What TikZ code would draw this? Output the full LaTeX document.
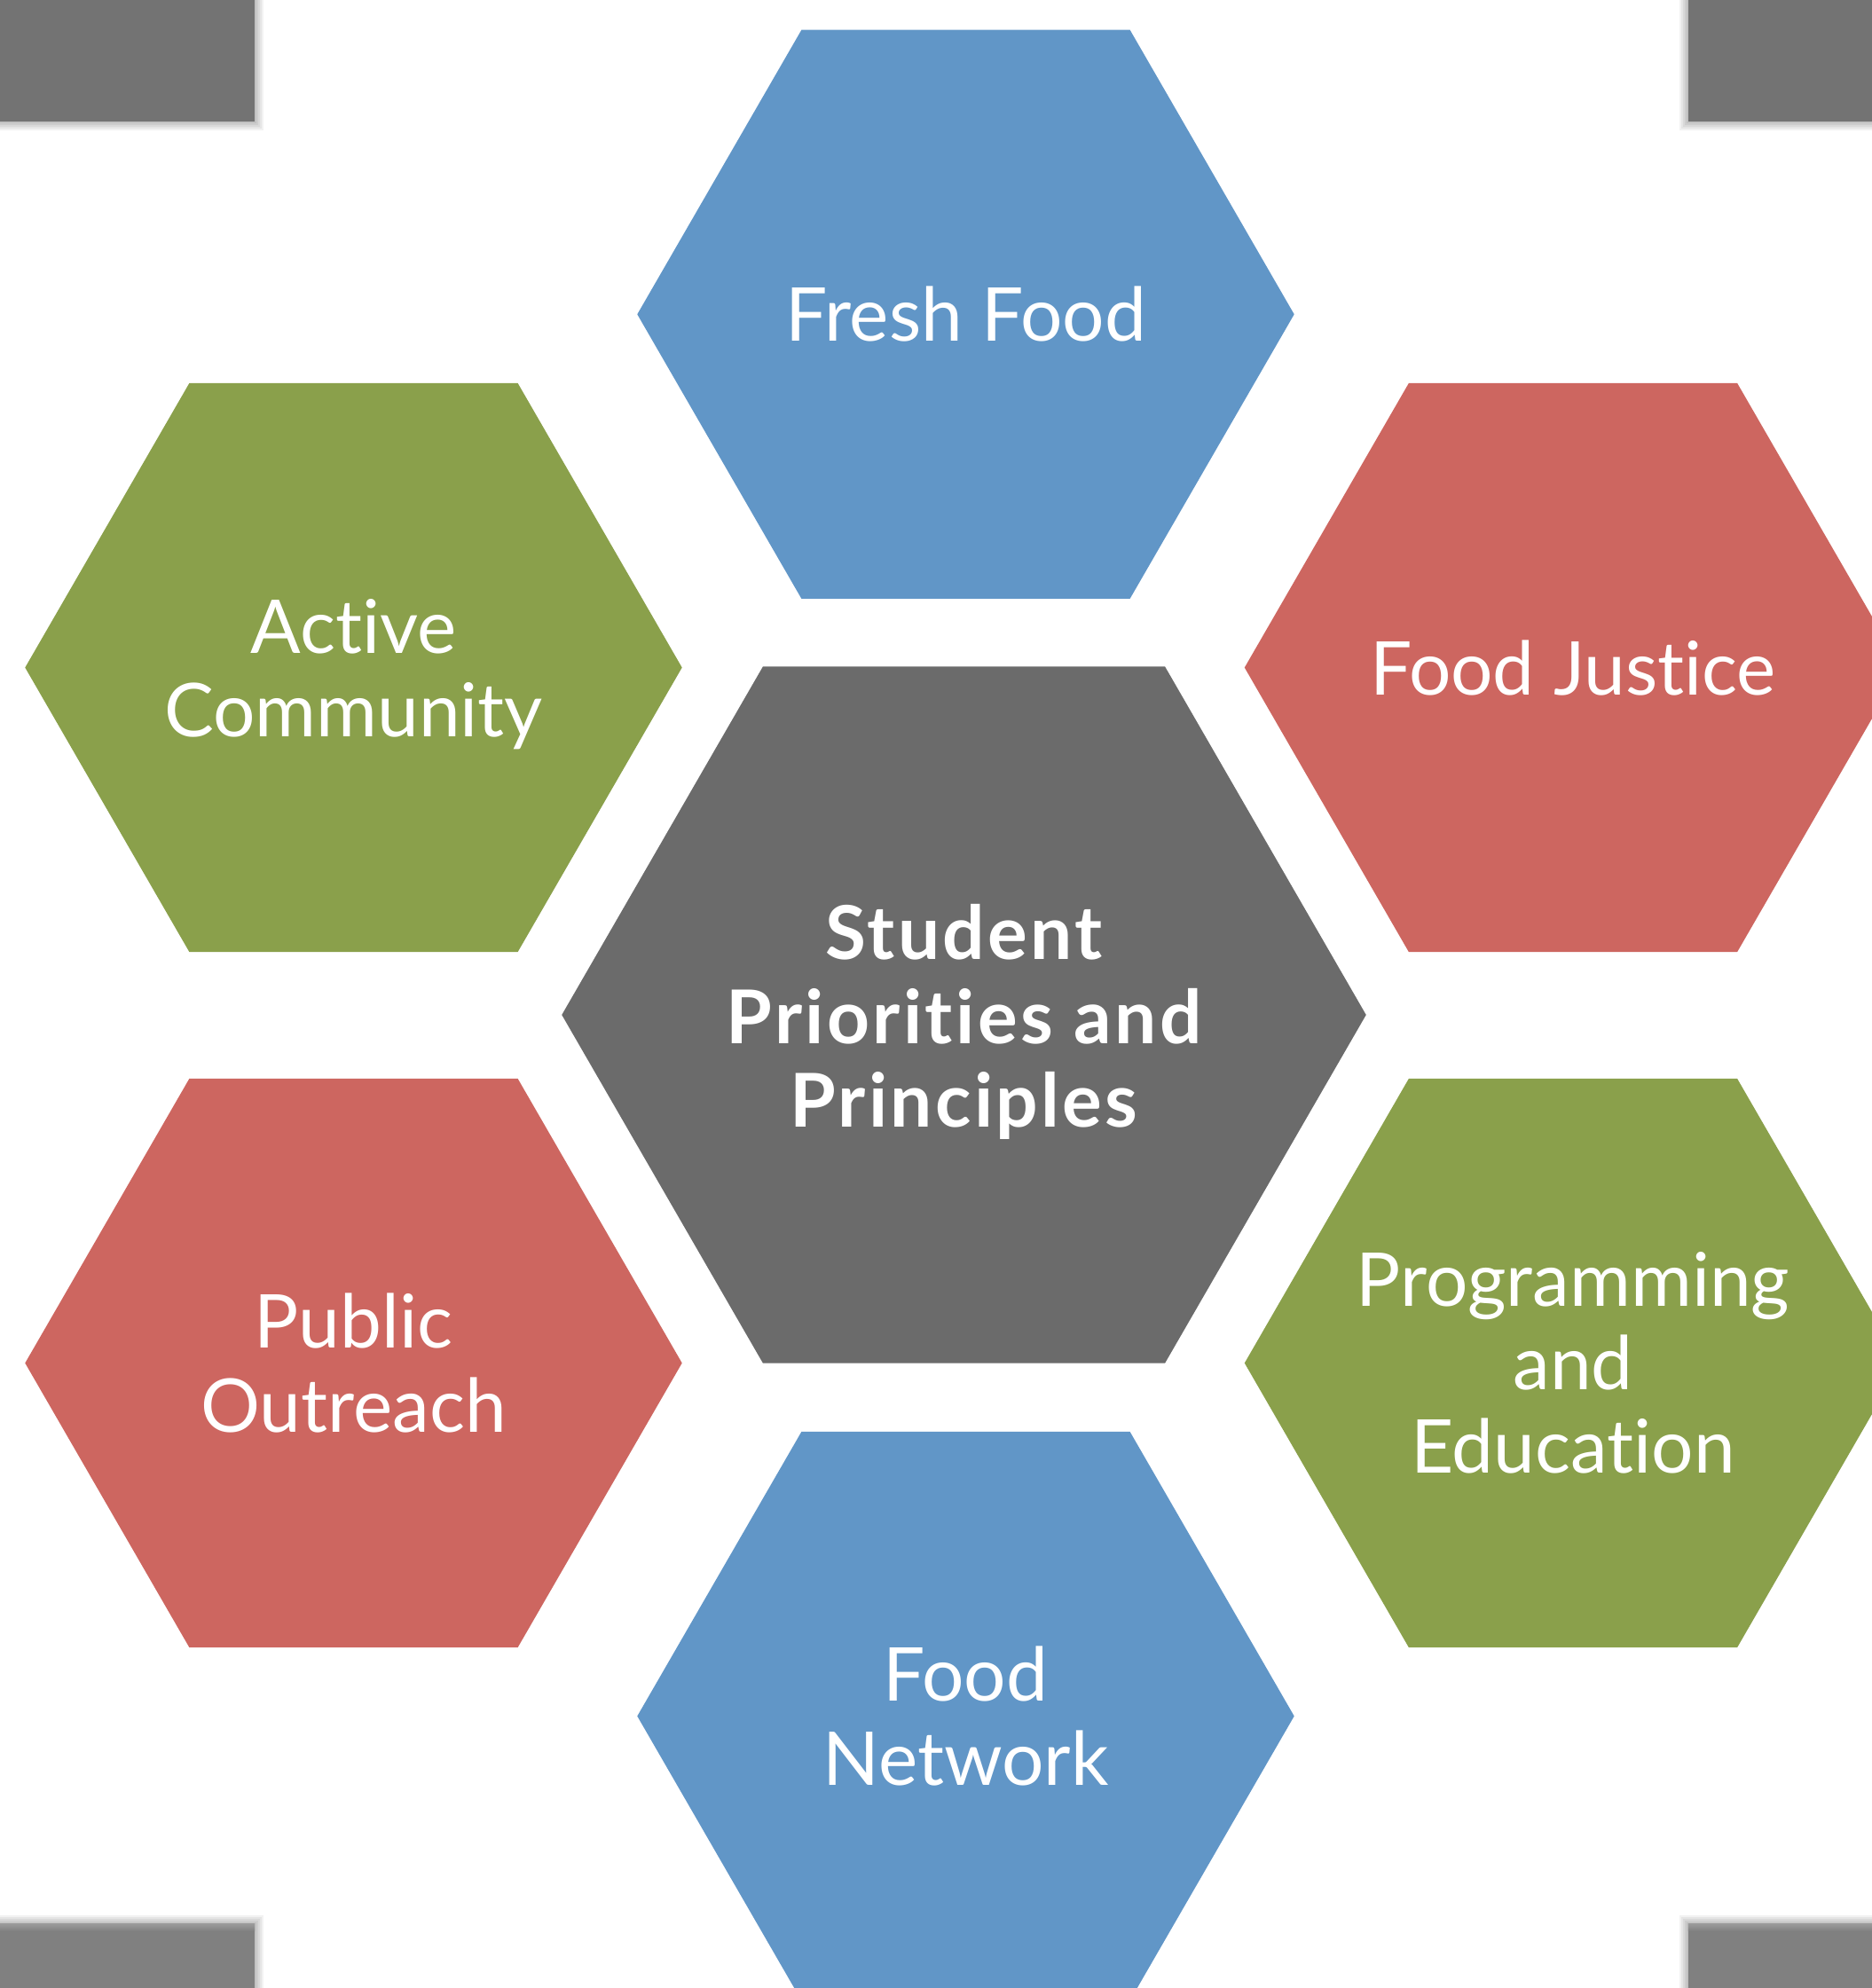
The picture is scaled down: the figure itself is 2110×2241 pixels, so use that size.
\documentclass[tikz,border=0pt]{standalone}
\usepackage{fontspec}
\setmainfont[Ligatures={NoCommon,NoDiscretionary}]{Lato}
\usetikzlibrary{shapes.geometric}
\definecolor{hblue}{HTML}{6196C7}
\definecolor{hgreen}{HTML}{8AA04B}
\definecolor{hred}{HTML}{CD6660}
\definecolor{hgray}{HTML}{6B6B6B}
\definecolor{cornerA}{HTML}{737373}
\definecolor{cornerB}{HTML}{808080}
\begin{document}
\begin{tikzpicture}[x=0.01cm,y=-0.01cm,
  hexa/.style={regular polygon, regular polygon sides=6, inner sep=0pt, outer sep=0pt, draw=none},
  smallhex/.style={hexa, minimum size=7.4cm},
  bighex/.style={hexa, minimum size=9.06cm},
  lbl/.style={text=white, align=center, inner sep=0pt, font=\fontsize{23.8}{26.8}\selectfont},
  shadowbox/.style={fill=black, fill opacity=0.05, draw=none}]
\useasboundingbox (0,0) rectangle (2110,2241);
\clip (0,0) rectangle (2110,2241);
\fill[white] (0,0) rectangle (2110,2241);

% corner rectangles with soft shadows
\foreach \i in {1,...,5} {
  \fill[shadowbox] (0,0) rectangle (287+2*\i,137+2*\i);
  \fill[shadowbox] (1903-2*\i,0) rectangle (2110,137+2*\i);
  \fill[shadowbox] (0,2169-2*\i) rectangle (287+2*\i,2241);
  \fill[shadowbox] (1903-2*\i,2169-2*\i) rectangle (2110,2241);
}
\node[fill=cornerA, inner sep=0pt, outer sep=0pt, minimum width=2.87cm, minimum height=1.37cm, anchor=north west] (tl) at (0,0) {};
\node[fill=cornerA, inner sep=0pt, outer sep=0pt, minimum width=2.07cm, minimum height=1.37cm, anchor=north east] (tr) at (2110,0) {};
\node[fill=cornerB, inner sep=0pt, outer sep=0pt, minimum width=2.87cm, minimum height=0.72cm, anchor=south west] (bl) at (0,2241) {};
\node[fill=cornerB, inner sep=0pt, outer sep=0pt, minimum width=2.07cm, minimum height=0.72cm, anchor=south east] (br) at (2110,2241) {};
\shade[top color=black!40, bottom color=cornerB] (bl.north west) rectangle ([yshift=-0.08cm]bl.north east);
\shade[top color=black!40, bottom color=cornerB] (br.north west) rectangle ([yshift=-0.08cm]br.north east);

% hexagons
\node[bighex, fill=hgray] (center) at (1086.5,1144) {};
\node[smallhex, fill=hblue] (fresh) at (1088.5,354.3) {};
\node[smallhex, fill=hred] (justice) at (1773,752.5) {};
\node[smallhex, fill=hgreen] (active) at (398.5,752.5) {};
\node[smallhex, fill=hred] (public) at (398.5,1536.5) {};
\node[smallhex, fill=hgreen] (program) at (1773,1536.5) {};
\node[smallhex, fill=hblue] (network) at (1088.5,1934.5) {};

% labels
\node[lbl, font=\fontsize{23.8}{26.8}\selectfont\bfseries\addfontfeature{LetterSpace=4}, yshift=-0.08cm] (centerL) at (center) {Student\\Priorities and\\Principles};
\node[lbl] (freshL) at (fresh) {Fresh Food};
\node[lbl] (justiceL) at (justice) {Food Justice};
\node[lbl, yshift=-0.08cm] (activeL) at (active) {Active\\Community};
\node[lbl] (publicL) at (public) {Public\\Outreach};
\node[lbl] (programL) at (program) {Programming\\and\\Education};
\node[lbl] (networkL) at (network) {Food\\Network};
\end{tikzpicture}
\end{document}
